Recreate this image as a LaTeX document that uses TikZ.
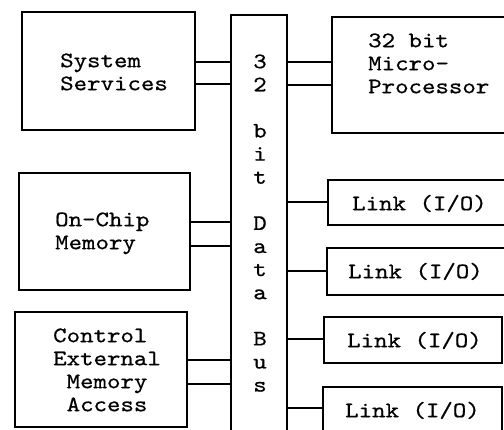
\documentclass[tikz,border=0pt]{standalone}
\usepackage{fontspec}
\setmonofont{lmmono10-regular.otf}[FakeStretch=1.16,FakeBold=0.6]
\newcommand{\fh}{\rule{0pt}{16pt}}
\begin{document}
\begin{tikzpicture}[x=1pt,y=-1pt,
  box/.style={draw, line width=1.2pt, inner sep=0pt},
  txt/.style={font=\ttfamily\fontsize{22.1}{23}\selectfont, inner sep=0pt, anchor=north west, align=left},
  bustxt/.style={font=\ttfamily\fontsize{22.1}{23.1}\selectfont, inner sep=0pt, anchor=north, align=center},
  wire/.style={line width=1.2pt}]
\useasboundingbox (0,0) rectangle (504,430);
\clip (0,0) rectangle (504,430);
% boxes
\node[box, minimum width=173pt, minimum height=118pt] (ss) at (108.5,71) {};
\node[box, minimum width=200pt, minimum height=116pt] (mp) at (432,75) {};
\node[box, minimum width=171pt, minimum height=117pt] (ocm) at (104.5,231.5) {};
\node[box, minimum width=172pt, minimum height=115pt] (cema) at (101,369.5) {};
\node[box, minimum width=56pt, minimum height=440pt] (bus) at (259,235) {};
\node[box, minimum width=200pt, minimum height=45pt] (l1) at (428,202.5) {};
\node[box, minimum width=200pt, minimum height=47pt] (l2) at (427,271.5) {};
\node[box, minimum width=178pt, minimum height=46pt] (l3) at (413,340) {};
\node[box, minimum width=179pt, minimum height=47pt] (l4) at (412.5,410.5) {};
% texts
\node[txt] (tss) at (60,51) {\fh System\\Services};
\node[txt] (tmp) at (368,31) {\fh 32 bit\\Micro-\\Processor};
\node[txt] (tocm) at (55,210) {\fh On-Chip\\Memory};
\node[txt] (tcema) at (53,326) {\fh Control\\External\\\phantom{x}Memory\\\phantom{x}Access};
\node[txt] (tl1) at (352,194) {\fh Link (I/O)};
\node[txt] (tl2) at (348,262) {\fh Link (I/O)};
\node[txt] (tl3) at (347,331) {\fh Link (I/O)};
\node[txt] (tl4) at (345,401) {\fh Link (I/O)};
\node[bustxt] (tbus) at (260,52) {\fh 3\\2\\~\\b\\i\\t\\~\\D\\a\\t\\a\\~\\B\\u\\s};
% connectors
\draw[wire] (ss.east |- 0,62) -- (bus.west |- 0,62);
\draw[wire] (ss.east |- 0,84) -- (bus.west |- 0,84);
\draw[wire] (bus.east |- 0,62) -- (mp.west |- 0,62);
\draw[wire] (bus.east |- 0,85) -- (mp.west |- 0,85);
\draw[wire] (ocm.east |- 0,222) -- (bus.west |- 0,222);
\draw[wire] (ocm.east |- 0,246) -- (bus.west |- 0,246);
\draw[wire] (cema.east |- 0,360) -- (bus.west |- 0,360);
\draw[wire] (cema.east |- 0,384) -- (bus.west |- 0,384);
\draw[wire] (bus.east |- 0,202) -- (l1.west |- 0,202);
\draw[wire] (bus.east |- 0,271) -- (l2.west |- 0,271);
\draw[wire] (bus.east |- 0,339) -- (l3.west |- 0,339);
\draw[wire] (bus.east |- 0,408) -- (l4.west |- 0,408);
\end{tikzpicture}
\end{document}
